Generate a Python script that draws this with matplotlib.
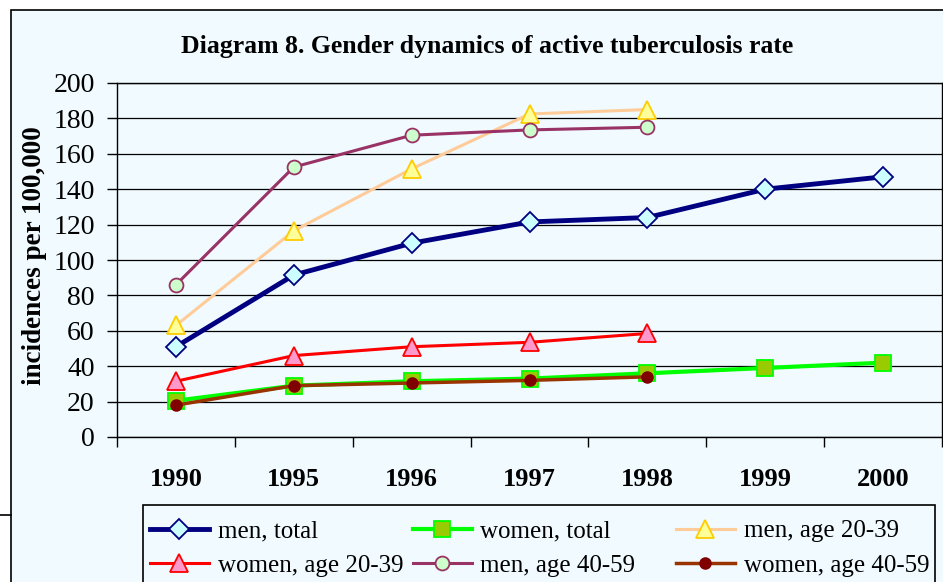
import matplotlib.pyplot as plt
from matplotlib.patches import Rectangle
from matplotlib.lines import Line2D

# dados
anos = ['1990', '1995', '1996', '1997', '1998', '1999', '2000']
men_total = [51, 91.5, 109.5, 121.5, 124, 140, 147]
women_total = [20.5, 29, 31.5, 33, 36, 39, 42]
men_20_39 = [63, 116.5, 151.5, 182.5, 185]
women_20_39 = [31.5, 46, 51, 53.5, 58.5]
men_40_59 = [86, 152.5, 170.5, 173.5, 175]
women_40_59 = [18, 29, 30.5, 32, 34]
yticks = list(range(0, 201, 20))

fundo = '#F0FAFF'
plt.rcParams['font.family'] = ['Liberation Serif', 'DejaVu Serif']

fig = plt.figure(figsize=(9.43, 5.82), dpi=100)
fig.patch.set_facecolor('white')
# moldura do gráfico
fig.patches.append(Rectangle((11 / 943, -0.05), 1.0, 1 - 10 / 582 + 0.05,
                             transform=fig.transFigure, facecolor=fundo,
                             edgecolor='black', linewidth=1.2, zorder=-2))
fig.add_artist(Line2D([0, 11 / 943], [1 - 515 / 582] * 2, color='black', lw=1.2))

ax = fig.add_axes([117 / 943, 1 - 437 / 582, 825 / 943, 354 / 582])
ax.set_zorder(2)
ax.set_facecolor(fundo)

x_all = list(range(len(anos)))
x5 = x_all[:5]

series = [
    (x_all, men_total, 'men, total', dict(color='#000080', lw=3.5, marker='D', ms=10.5,
                                          mfc='#CCFFFF', mec='#000080', mew=1.3)),
    (x_all, women_total, 'women, total', dict(color='#00FF00', lw=3, marker='s', ms=11.5,
                                              mfc='#99CC00', mec='#00FF00', mew=1.3)),
    (x5, men_20_39, 'men, age 20-39', dict(color='#FFCC99', lw=2.2, marker='^', ms=12.5,
                                           mfc='#FFFF99', mec='#FFCC00', mew=1.3)),
    (x5, women_20_39, 'women, age 20-39', dict(color='#FF0000', lw=2.2, marker='^', ms=12.5,
                                               mfc='#FF99CC', mec='#FF0000', mew=1.3)),
    (x5, men_40_59, 'men, age 40-59', dict(color='#993366', lw=2.2, marker='o', ms=10,
                                           mfc='#CCFFCC', mec='#993366', mew=1.3)),
    (x5, women_40_59, 'women, age 40-59', dict(color='#993300', lw=2.5, marker='o', ms=8,
                                               mfc='#800000', mec='#800000', mew=1)),
]
handles = []
for xs, ys, nome, estilo in series:
    h, = ax.plot(xs, ys, label=nome, zorder=3, **estilo)
    handles.append(h)

ax.set_xlim(-0.5, len(anos) - 0.5)
ax.set_ylim(0, 200)
ax.set_yticks(yticks)
ax.set_yticklabels([str(v) for v in yticks], fontsize=20)
ax.yaxis.grid(True, color='black', lw=0.9)
ax.set_axisbelow(True)
ax.tick_params(axis='y', direction='out', length=7, width=1, pad=9)

ax.set_xticks(x_all)
ax.set_xticklabels(anos, fontsize=19, fontweight='bold')
ax.set_xticks([i - 0.5 for i in range(len(anos) + 1)], minor=True)
ax.tick_params(axis='x', which='major', length=0, pad=22)
ax.tick_params(axis='x', which='minor', direction='out', length=7, width=1)
for s in ax.spines.values():
    s.set_color('black')
    s.set_linewidth(1)

fig.text(487 / 943, 1 - 47 / 582, 'Diagram 8. Gender dynamics of active tuberculosis rate',
         ha='center', va='center', fontsize=18.5, fontweight='bold')
fig.text(35 / 943, 1 - 256 / 582, 'incidences per 100,000', rotation=90,
         ha='center', va='center', fontsize=19.5, fontweight='bold')

# legenda em caixa na parte de baixo
fig.patches.append(Rectangle((143 / 943, -0.05), 792 / 943, 0.05 + 1 - 505 / 582,
                             transform=fig.transFigure, facecolor=fundo,
                             edgecolor='black', linewidth=1.2, zorder=1))
colunas = [(150, [0, 3]), (413, [1, 4]), (676, [2, 5])]
for xpos, idx in colunas:
    leg = fig.legend([handles[i] for i in idx], [handles[i].get_label() for i in idx],
                     loc='upper left', bbox_to_anchor=(xpos / 943, 1 - 520 / 582),
                     frameon=False, fontsize=18, borderpad=0, borderaxespad=0,
                     handlelength=2.35, handletextpad=0.35, labelspacing=0.48,
                     markerscale=1.0)
    leg.set_zorder(3)

fig.savefig('out.png', dpi=100, facecolor=fig.get_facecolor())
